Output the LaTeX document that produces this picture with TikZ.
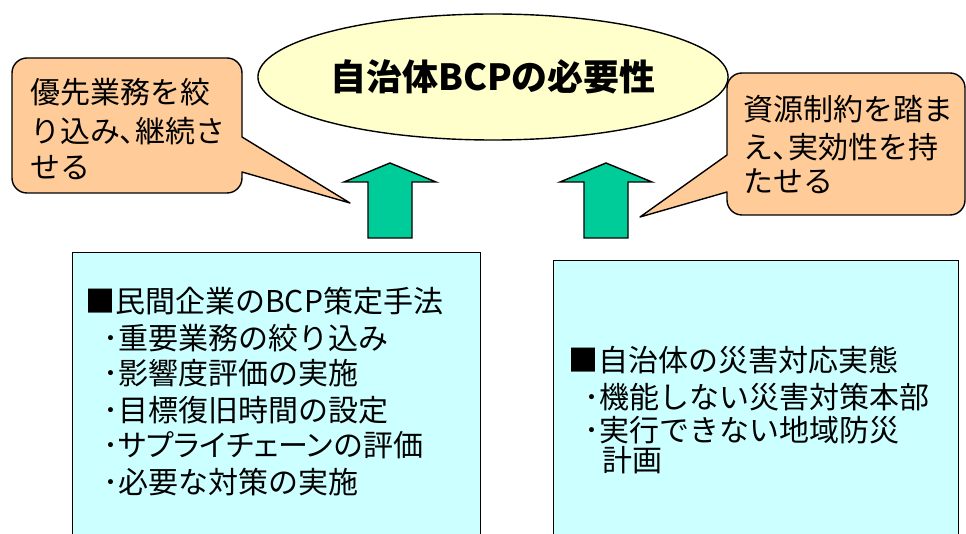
\documentclass[tikz,border=0pt]{standalone}
\usepackage{fontspec}
\newfontfamily\jp{Noto Sans CJK JP}
\newfontfamily\jpp[RawFeature=+palt]{Noto Sans CJK JP}
\usetikzlibrary{shapes.geometric}
\definecolor{peach}{HTML}{FFCC99}
\definecolor{ylw}{HTML}{FFFFCC}
\definecolor{grn}{HTML}{00CC99}
\definecolor{cbox}{HTML}{CCFFFF}
\tikzset{
  outl/.style={draw=black, line width=1.4pt, line join=round},
  co/.style={outl, fill=peach},
  arr/.style={outl, fill=grn, line join=miter},
  infobox/.style={draw=black, line width=1.3pt, fill=cbox, anchor=north west, inner sep=0},
  jt/.style={font=\jp\fontsize{30}{30}\selectfont, inner sep=0, anchor=base west},
}
\begin{document}
\begin{tikzpicture}[x=1pt,y=-1pt]
\clip (0,0) rectangle (966,534);
\fill[white] (0,0) rectangle (966,534);

% title ellipse
\node[ellipse, outl, fill=ylw, minimum width=456pt, minimum height=126pt,
      font=\jp\bfseries\fontsize{36}{36}\selectfont] (title) at (493,77) {自治体BCPの必要性};

% left callout
\draw[co] (242,137) -- (350,203) -- (242,172) -- (242,178)
  arc[start angle=0,end angle=90,radius=15] -- (27,193)
  arc[start angle=90,end angle=180,radius=15] -- (12,73)
  arc[start angle=180,end angle=270,radius=15] -- (227,58)
  arc[start angle=270,end angle=360,radius=15] -- cycle;
\node[jt] (l1) at (30,104) {優先業務を絞};
\node[jt] (l2) at (30,143) {り込み{\jpp 、}継続さ};
\node[jt] (l3) at (30,179) {せる};

% right callout
\draw[co] (727,155) -- (640,217) -- (727,192) -- (727,200)
  arc[start angle=180,end angle=90,radius=15] -- (950,215)
  arc[start angle=90,end angle=0,radius=15] -- (965,88)
  arc[start angle=0,end angle=-90,radius=15] -- (742,73)
  arc[start angle=-90,end angle=-180,radius=15] -- cycle;
\node[jt] (r1) at (743,121) {資源制約を踏ま};
\node[jt] (r2) at (743,159) {え{\jpp 、}実効性を持};
\node[jt] (r3) at (743,193) {たせる};

% arrows
\draw[arr] (390,163) -- (436,182) -- (412,182) -- (412,238) -- (368,238) -- (368,182) -- (344,182) -- cycle;
\draw[arr] (606,163) -- (652,182) -- (628,182) -- (628,238) -- (584,238) -- (584,182) -- (560,182) -- cycle;

% boxes
\node[infobox, minimum width=408pt, minimum height=300pt] (lbox) at (72,252) {};
\node[infobox, minimum width=405pt, minimum height=300pt] (rbox) at (553,260) {};

\node[jt] (a0) at (85,313) {■民間企業のBCP策定手法};
\node[jt] (a1) at (103,349) {･重要業務の絞り込み};
\node[jt] (a2) at (103,384) {･影響度評価の実施};
\node[jt] (a3) at (103,421) {･目標復旧時間の設定};
\node[jt] (a4) at (103,456) {･{\jpp サプライチェーン}の評価};
\node[jt] (a5) at (103,493) {･必要な対策の実施};

\node[jt] (b0) at (568,371) {■自治体の災害対応実態};
\node[jt] (b1) at (584,408) {･機能しない災害対策本部};
\node[jt] (b2) at (584,441) {･実行できない地域防災};
\node[jt] (b3) at (602,471) {計画};
\end{tikzpicture}
\end{document}
